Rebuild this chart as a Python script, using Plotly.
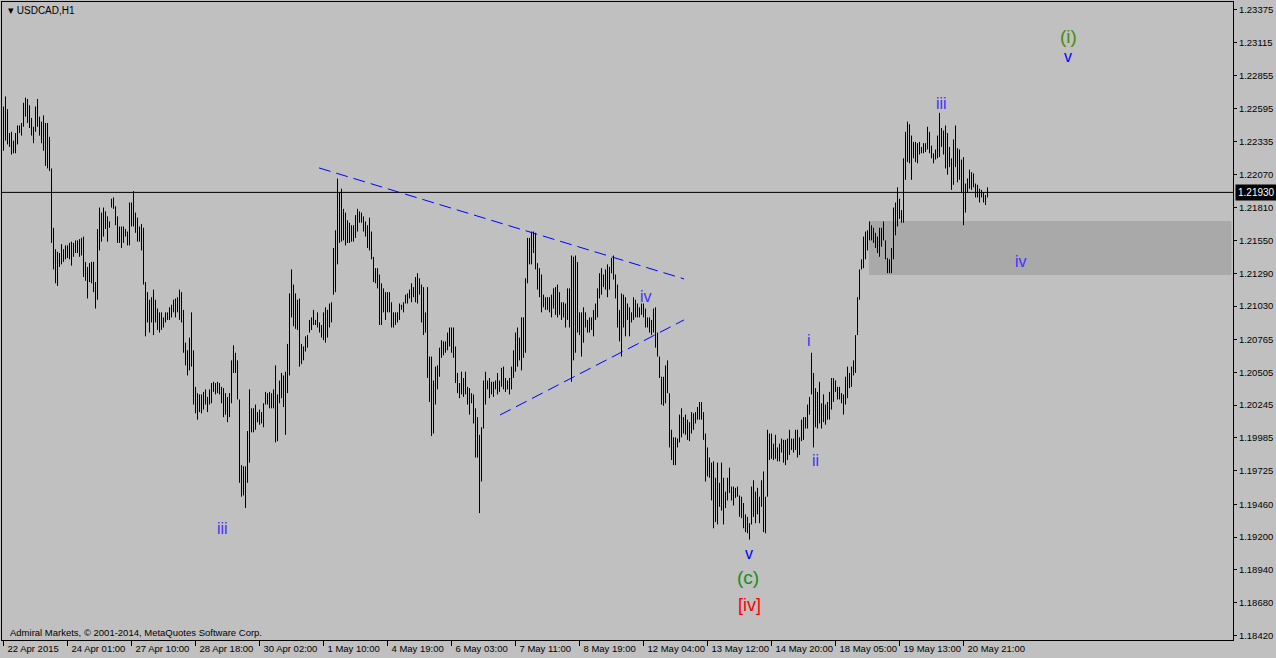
import plotly.graph_objects as go

symbol = "USDCAD,H1"
copyright_text = "Admiral Markets, © 2001-2014, MetaQuotes Software Corp."
last_price = 1.21930

highs = [
1.2261,1.2269,1.2259,1.2240,1.2241,1.2234,1.2240,1.2246,1.2246,1.2248,
1.2264,1.2268,1.2267,1.2262,1.2252,1.2245,1.2261,1.2267,1.2253,1.2249,
1.2254,1.2248,1.2248,1.2237,1.2212,1.2165,1.2148,1.2146,1.2145,1.2152,
1.2148,1.2151,1.2151,1.2153,1.2154,1.2153,1.2155,1.2155,1.2156,1.2157,
1.2158,1.2138,1.2134,1.2137,1.2138,1.2138,1.2122,1.2164,1.2181,1.2177,
1.2181,1.2178,1.2174,1.2170,1.2188,1.2189,1.2182,1.2174,1.2166,1.2166,
1.2166,1.2164,1.2162,1.2185,1.2185,1.2194,1.2177,1.2173,1.2166,1.2168,
1.2165,1.2122,1.2114,1.2108,1.2110,1.2116,1.2108,1.2101,1.2098,1.2098,
1.2094,1.2098,1.2098,1.2102,1.2104,1.2108,1.2109,1.2110,1.2116,1.2114,
1.2100,1.2074,1.2068,1.2078,1.2098,1.2068,1.2039,1.2034,1.2033,1.2033,
1.2035,1.2037,1.2031,1.2037,1.2042,1.2043,1.2042,1.2043,1.2042,1.2039,
1.2038,1.2034,1.2031,1.2034,1.2060,1.2072,1.2066,1.2060,1.2029,1.1977,
1.1976,1.1976,1.2004,1.2037,1.2022,1.2022,1.2025,1.2019,1.2021,1.2019,
1.2026,1.2035,1.2034,1.2035,1.2034,1.2037,1.2056,1.2033,1.2044,1.2050,
1.2048,1.2051,1.2073,1.2113,1.2132,1.2120,1.2113,1.2108,1.2109,1.2073,
1.2071,1.2079,1.2080,1.2092,1.2094,1.2100,1.2092,1.2098,1.2090,1.2088,
1.2098,1.2102,1.2100,1.2105,1.2106,1.2149,1.2163,1.2204,1.2193,1.2196,
1.2180,1.2177,1.2171,1.2169,1.2167,1.2167,1.2175,1.2180,1.2178,1.2177,
1.2174,1.2170,1.2167,1.2173,1.2162,1.2142,1.2133,1.2133,1.2128,1.2121,
1.2117,1.2114,1.2114,1.2114,1.2106,1.2098,1.2098,1.2098,1.2105,1.2104,
1.2106,1.2112,1.2113,1.2116,1.2121,1.2118,1.2126,1.2129,1.2125,1.2120,
1.2118,1.2098,1.2118,1.2063,1.2063,1.2044,1.2055,1.2056,1.2070,1.2076,
1.2075,1.2075,1.2082,1.2086,1.2086,1.2086,1.2071,1.2050,1.2042,1.2051,
1.2046,1.2051,1.2039,1.2038,1.2034,1.2033,1.2022,1.2015,1.2001,1.2007,
1.2044,1.2051,1.2044,1.2046,1.2043,1.2043,1.2044,1.2050,1.2044,1.2054,
1.2055,1.2046,1.2044,1.2046,1.2055,1.2068,1.2082,1.2086,1.2078,1.2094,
1.2094,1.2125,1.2157,1.2157,1.2162,1.2162,1.2161,1.2137,1.2133,1.2128,
1.2112,1.2110,1.2110,1.2110,1.2112,1.2117,1.2118,1.2120,1.2114,1.2106,
1.2106,1.2105,1.2117,1.2117,1.2143,1.2142,1.2143,1.2138,1.2098,1.2098,
1.2102,1.2098,1.2092,1.2094,1.2094,1.2100,1.2105,1.2117,1.2129,1.2133,
1.2128,1.2132,1.2136,1.2134,1.2141,1.2143,1.2128,1.2120,1.2100,1.2113,
1.2112,1.2110,1.2105,1.2102,1.2098,1.2110,1.2108,1.2105,1.2102,1.2105,
1.2105,1.2101,1.2094,1.2094,1.2092,1.2101,1.2102,1.2082,1.2063,1.2047,
1.2047,1.2056,1.2060,1.2034,1.2005,1.1999,1.1999,1.1998,1.2017,1.2022,
1.2015,1.2017,1.2013,1.2011,1.2019,1.2018,1.2019,1.2023,1.2027,1.2027,
1.2019,1.2002,1.1991,1.1983,1.1979,1.1980,1.1967,1.1979,1.1963,1.1979,
1.1967,1.1956,1.1967,1.1975,1.1960,1.1960,1.1959,1.1960,1.1953,1.1952,
1.1947,1.1938,1.1936,1.1931,1.1960,1.1965,1.1956,1.1959,1.1952,1.1965,
1.1972,1.1952,1.2005,1.2002,1.2002,1.1994,1.2001,1.1991,1.1994,1.1998,
1.1997,1.1997,1.1998,1.2005,1.1998,1.1998,1.2005,1.2005,1.1999,1.2013,
1.2015,1.2015,1.2025,1.2031,1.2066,1.2050,1.2038,1.2035,1.2043,1.2026,
1.2033,1.2025,1.2027,1.2035,1.2046,1.2046,1.2044,1.2039,1.2039,1.2034,
1.2033,1.2047,1.2055,1.2050,1.2055,1.2060,1.2080,1.2110,1.2132,1.2140,
1.2158,1.2162,1.2163,1.2170,1.2167,1.2165,1.2161,1.2158,1.2165,1.2165,
1.2170,1.2155,1.2141,1.2140,1.2149,1.2181,1.2185,1.2197,1.2188,1.2179,
1.2220,1.2241,1.2249,1.2247,1.2238,1.2233,1.2233,1.2232,1.2233,1.2229,
1.2232,1.2232,1.2245,1.2241,1.2230,1.2224,1.2227,1.2238,1.2256,1.2244,
1.2242,1.2246,1.2240,1.2229,1.2220,1.2235,1.2246,1.2228,1.2227,1.2219,
1.2221,1.2200,1.2204,1.2211,1.2209,1.2208,1.2200,1.2199,1.2196,1.2195,
1.2193,1.2191,1.2197,
]

lows = [
1.2226,1.2234,1.2231,1.2229,1.2223,1.2224,1.2224,1.2231,1.2240,1.2238,
1.2245,1.2253,1.2248,1.2244,1.2238,1.2232,1.2241,1.2245,1.2238,1.2232,
1.2226,1.2214,1.2212,1.2210,1.2153,1.2132,1.2121,1.2119,1.2134,1.2136,
1.2138,1.2140,1.2141,1.2140,1.2135,1.2142,1.2145,1.2145,1.2142,1.2143,
1.2126,1.2123,1.2109,1.2122,1.2121,1.2114,1.2101,1.2108,1.2147,1.2154,
1.2158,1.2164,1.2154,1.2165,1.2181,1.2180,1.2167,1.2153,1.2153,1.2149,
1.2153,1.2158,1.2151,1.2151,1.2166,1.2166,1.2161,1.2154,1.2154,1.2147,
1.2120,1.2079,1.2090,1.2082,1.2090,1.2080,1.2090,1.2084,1.2082,1.2084,
1.2086,1.2090,1.2092,1.2092,1.2094,1.2098,1.2094,1.2098,1.2092,1.2090,
1.2066,1.2056,1.2048,1.2052,1.2055,1.2025,1.2018,1.2013,1.2019,1.2018,
1.2021,1.2025,1.2019,1.2025,1.2026,1.2035,1.2033,1.2034,1.2033,1.2026,
1.2015,1.2017,1.2011,1.2015,1.2026,1.2050,1.2050,1.2029,1.1963,1.1952,
1.1953,1.1943,1.1963,1.1979,1.2003,1.2003,1.2005,1.2011,1.2009,1.2010,
1.2007,1.2025,1.2025,1.2022,1.2022,1.2022,1.1995,1.1996,1.2026,1.2030,
1.2023,1.2001,1.2034,1.2048,1.2094,1.2087,1.2085,1.2084,1.2055,1.2057,
1.2060,1.2067,1.2070,1.2082,1.2084,1.2088,1.2088,1.2086,1.2082,1.2078,
1.2076,1.2074,1.2078,1.2086,1.2090,1.2112,1.2114,1.2136,1.2153,1.2154,
1.2155,1.2151,1.2153,1.2153,1.2154,1.2154,1.2157,1.2162,1.2169,1.2169,
1.2162,1.2158,1.2149,1.2147,1.2140,1.2122,1.2121,1.2117,1.2088,1.2088,
1.2098,1.2092,1.2098,1.2098,1.2086,1.2086,1.2088,1.2090,1.2092,1.2100,
1.2098,1.2105,1.2105,1.2109,1.2106,1.2110,1.2106,1.2105,1.2112,1.2090,
1.2080,1.2082,1.2046,1.2027,1.2000,1.2002,1.2025,1.2037,1.2047,1.2062,
1.2064,1.2066,1.2068,1.2071,1.2066,1.2062,1.2042,1.2034,1.2030,1.2033,
1.2031,1.2033,1.2025,1.2017,1.2026,1.2010,1.1983,1.1983,1.1939,1.1964,
1.2006,1.2025,1.2037,1.2030,1.2033,1.2031,1.2037,1.2033,1.2035,1.2039,
1.2037,1.2035,1.2037,1.2033,1.2037,1.2046,1.2051,1.2055,1.2060,1.2052,
1.2062,1.2066,1.2121,1.2136,1.2136,1.2145,1.2132,1.2116,1.2110,1.2098,
1.2102,1.2100,1.2100,1.2098,1.2094,1.2101,1.2096,1.2094,1.2096,1.2092,
1.2094,1.2086,1.2092,1.2086,1.2043,1.2060,1.2066,1.2082,1.2080,1.2063,
1.2074,1.2086,1.2082,1.2082,1.2084,1.2079,1.2092,1.2094,1.2109,1.2112,
1.2118,1.2116,1.2110,1.2116,1.2129,1.2124,1.2109,1.2086,1.2075,1.2063,
1.2086,1.2079,1.2092,1.2079,1.2090,1.2092,1.2094,1.2094,1.2094,1.2096,
1.2094,1.2086,1.2086,1.2082,1.2080,1.2082,1.2070,1.2063,1.2046,1.2025,
1.2024,1.2026,1.2034,1.1991,1.1981,1.1977,1.1977,1.1991,1.1995,1.1999,
1.2002,1.2001,1.1997,1.1996,1.2002,1.2005,1.2010,1.2013,1.2013,1.2013,
1.1997,1.1964,1.1968,1.1967,1.1949,1.1927,1.1932,1.1930,1.1944,1.1941,
1.1930,1.1943,1.1949,1.1955,1.1949,1.1945,1.1951,1.1952,1.1936,1.1935,
1.1927,1.1924,1.1923,1.1918,1.1930,1.1936,1.1931,1.1938,1.1931,1.1944,
1.1924,1.1923,1.1952,1.1981,1.1982,1.1981,1.1982,1.1980,1.1980,1.1987,
1.1979,1.1977,1.1981,1.1985,1.1989,1.1987,1.1989,1.1983,1.1985,1.1996,
1.1997,1.2006,1.2006,1.2017,1.2033,1.1991,1.2007,1.2006,1.2010,1.2006,
1.2011,1.2009,1.2013,1.2013,1.2021,1.2027,1.2035,1.2029,1.2029,1.2026,
1.2017,1.2025,1.2030,1.2038,1.2039,1.2048,1.2050,1.2080,1.2108,1.2132,
1.2133,1.2140,1.2147,1.2155,1.2155,1.2153,1.2149,1.2145,1.2142,1.2150,
1.2155,1.2140,1.2129,1.2129,1.2129,1.2140,1.2159,1.2166,1.2172,1.2169,
1.2169,1.2203,1.2217,1.2216,1.2203,1.2220,1.2217,1.2216,1.2223,1.2224,
1.2224,1.2225,1.2227,1.2224,1.2220,1.2216,1.2219,1.2220,1.2221,1.2229,
1.2223,1.2212,1.2207,1.2213,1.2195,1.2199,1.2213,1.2201,1.2203,1.2193,
1.2167,1.2177,1.2193,1.2196,1.2195,1.2197,1.2189,1.2189,1.2185,1.2189,
1.2185,1.2183,1.2189,
]

assert len(highs) == len(lows)
n_bars = len(highs)

time_labels = ["22 Apr 2015", "24 Apr 01:00", "27 Apr 10:00", "28 Apr 18:00",
               "30 Apr 02:00", "1 May 10:00", "4 May 19:00", "6 May 03:00",
               "7 May 11:00", "8 May 19:00", "12 May 04:00", "13 May 12:00",
               "14 May 20:00", "18 May 05:00", "19 May 13:00", "20 May 21:00"]
label_every = 32

price_ticks = [1.23375, 1.23115, 1.22855, 1.22595, 1.22335, 1.22070, 1.21810,
               1.21550, 1.21290, 1.21030, 1.20765, 1.20505, 1.20245, 1.19985,
               1.19725, 1.19460, 1.19200, 1.18940, 1.18680, 1.18420]

# triangle trend lines: (bar index, price)
upper_line = [(157.75, 1.22124), (340.25, 1.21245)]
lower_line = [(248.25, 1.20167), (340.25, 1.20920)]
# support zone
zone = {"start": 432.75, "end": 614.0, "high": 1.21704, "low": 1.21276}

# wave labels: (text, bar index, price, colour, size)
BLUE = "#4630ff"
wave_labels = [
    ("iii", 109.25, 1.19272, BLUE, 16),
    ("iv", 321.25, 1.21109, BLUE, 16),
    ("i", 402.75, 1.20761, BLUE, 16),
    ("ii", 405.75, 1.19803, BLUE, 16),
    ("v", 372.75, 1.19074, "#0000ff", 16),
    ("(c)", 372.25, 1.18884, "#109020", 19),
    ("[iv]", 372.75, 1.18662, "#ff0000", 18),
    ("iii", 468.75, 1.22638, BLUE, 16),
    ("iv", 508.75, 1.21379, BLUE, 16),
    ("(i)", 532.25, 1.23161, "#4a8c0a", 19),
    ("v", 532.25, 1.23003, "#0000ff", 16),
]

xs, ys = [], []
for i in range(n_bars):
    xs += [i, i, None]
    ys += [lows[i], highs[i], None]

fig = go.Figure()
fig.add_trace(go.Scatter(x=xs, y=ys, mode="lines",
                         line=dict(color="#000000", width=1),
                         hoverinfo="skip", showlegend=False))

shapes = [
    dict(type="rect", xref="x", yref="y", x0=zone["start"], x1=zone["end"],
         y0=zone["low"], y1=zone["high"], fillcolor="#a9a9a9",
         line=dict(width=0), layer="below"),
    dict(type="line", xref="paper", yref="y", x0=0, x1=1,
         y0=last_price, y1=last_price, line=dict(color="#000000", width=1)),
    dict(type="line", xref="x", yref="y", x0=upper_line[0][0], y0=upper_line[0][1],
         x1=upper_line[1][0], y1=upper_line[1][1],
         line=dict(color="#0000ff", width=1, dash="12px,6px")),
    dict(type="line", xref="x", yref="y", x0=lower_line[0][0], y0=lower_line[0][1],
         x1=lower_line[1][0], y1=lower_line[1][1],
         line=dict(color="#0000ff", width=1, dash="12px,6px")),
]

annotations = []
for text, xi, yp, col, sz in wave_labels:
    annotations.append(dict(text=text, x=xi, y=yp, xref="x", yref="y",
                            showarrow=False, xanchor="center", yanchor="middle",
                            font=dict(family="Liberation Sans", size=sz, color=col)))

annotations.append(dict(text="<span style='font-size:11px'>▾</span> " + symbol,
                        x=0.003, y=0.9875, xref="paper", yref="paper",
                        showarrow=False, xanchor="left", yanchor="middle",
                        font=dict(family="Liberation Sans", size=10, color="#000000")))
annotations.append(dict(text=copyright_text, x=0.0045, y=0.0125,
                        xref="paper", yref="paper", showarrow=False,
                        xanchor="left", yanchor="middle",
                        font=dict(family="Liberation Sans", size=9.5, color="#000000")))
annotations.append(dict(text=f"{last_price:.5f}", x=1, y=last_price,
                        xref="paper", yref="y", showarrow=False,
                        xanchor="left", yanchor="middle", xshift=2,
                        bgcolor="#000000", borderpad=2,
                        font=dict(family="Liberation Sans", size=10, color="#ffffff")))

tick_idx = list(range(0, n_bars, label_every))[:len(time_labels)]

fig.update_layout(
    width=1276, height=658,
    margin=dict(l=2, r=43, t=2, b=18, autoexpand=False),
    paper_bgcolor="#c0c0c0", plot_bgcolor="#c0c0c0",
    font=dict(family="Liberation Sans", size=9.5, color="#000000"),
    hovermode=False, showlegend=False,
    shapes=shapes, annotations=annotations,
    xaxis=dict(range=[-0.75, 614.75], tickvals=tick_idx, ticktext=time_labels,
               ticks="outside", ticklen=5, tickcolor="#000000", tickangle=0,
               ticklabelposition="outside right", ticklabelshift=3,
               automargin=False,
               showgrid=False, zeroline=False, showline=True, mirror=True,
               linecolor="#000000", linewidth=1, fixedrange=True),
    yaxis=dict(range=[1.18385, 1.23438], side="right", tickvals=price_ticks,
               ticktext=[f"{v:.5f}" for v in price_ticks], automargin=False,
               ticks="outside", ticklen=3, tickcolor="#000000",
               showgrid=False, zeroline=False, showline=True, mirror=True,
               linecolor="#000000", linewidth=1, fixedrange=True),
)

fig.write_html("out.html", config={"displayModeBar": False},
               post_script="document.body.style.margin='0';document.body.style.overflow='hidden';")
